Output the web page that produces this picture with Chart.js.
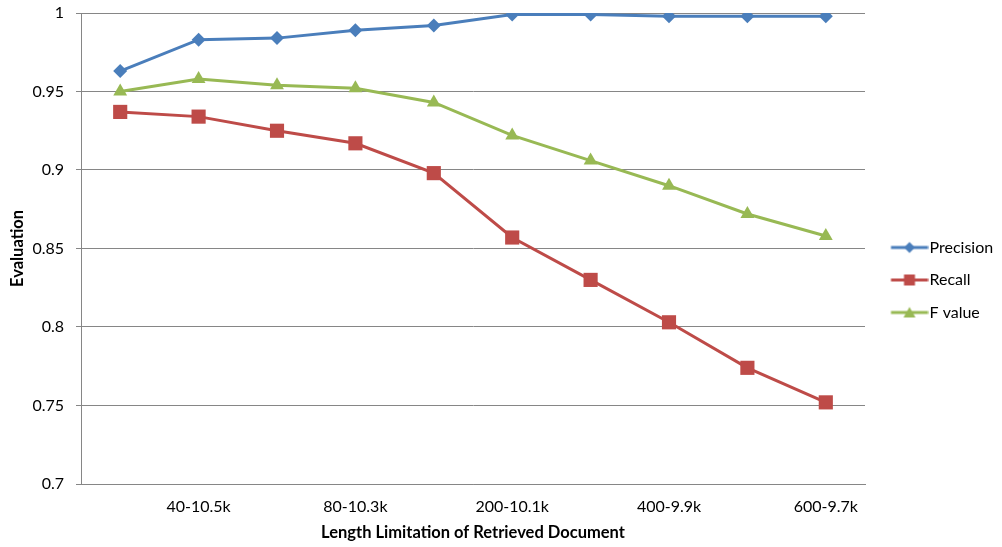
<!DOCTYPE html>
<html>
<head>
<meta charset="utf-8">
<script src="https://cdn.jsdelivr.net/npm/chart.js@4"></script>
<style>
  html, body { margin: 0; padding: 0; background: #fff; }
  #wrap { width: 1002px; height: 547px; }
</style>
</head>
<body>
<div id="wrap"><canvas id="evalChart" width="1002" height="547"></canvas></div>
<script>
const lengthLimits = ['20-10.6k', '40-10.5k', '60-10.4k', '80-10.3k', '100-10.2k', '200-10.1k', '300-10.0k', '400-9.9k', '500-9.8k', '600-9.7k'];
const precision = [0.963, 0.983, 0.984, 0.989, 0.992, 0.999, 0.999, 0.998, 0.998, 0.998];
const recall = [0.937, 0.934, 0.925, 0.917, 0.898, 0.857, 0.830, 0.803, 0.774, 0.752];
const fValue = [0.950, 0.958, 0.954, 0.952, 0.943, 0.922, 0.906, 0.890, 0.872, 0.858];
const yTicks = [0.7, 0.75, 0.8, 0.85, 0.9, 0.95, 1];

const fontName = 'Lato, "Open Sans", sans-serif';

// little line + marker picture for the legend
function legendIcon(color, style) {
    let c = document.createElement('canvas');
    c.width = 54;
    c.height = 16;
    let g = c.getContext('2d');
    let cx = 35;
    g.strokeStyle = color;
    g.fillStyle = color;
    g.lineWidth = 3;
    g.beginPath();
    g.moveTo(16.5, 8);
    g.lineTo(53.5, 8);
    g.stroke();
    g.beginPath();
    if (style == 'diamond') {
        g.moveTo(cx, 2.5); g.lineTo(cx + 5.5, 8); g.lineTo(cx, 13.5); g.lineTo(cx - 5.5, 8);
    } else if (style == 'square') {
        g.rect(cx - 5.5, 2.5, 11, 11);
    } else {
        g.moveTo(cx, 2.5); g.lineTo(cx + 6, 13); g.lineTo(cx - 6, 13);
    }
    g.closePath();
    g.fill();
    return c;
}

function series(label, data, color, pointStyle, radius, icon) {
    return {
        label: label,
        data: data,
        borderColor: color,
        backgroundColor: color,
        borderWidth: 3,
        pointStyle: pointStyle,
        pointRadius: radius,
        pointHoverRadius: radius,
        pointBorderWidth: 0,
        tension: 0,
        legendIcon: icon
    };
}

new Chart('evalChart', {
    type: 'line',
    data: {
        labels: lengthLimits,
        datasets: [
            series('Precision', precision, '#4A7EBB', 'rectRot', 7, legendIcon('#4A7EBB', 'diamond')),
            series('Recall', recall, '#BE4B48', 'rect', 10, legendIcon('#BE4B48', 'square')),
            series('F value', fValue, '#98B954', 'triangle', 8, legendIcon('#98B954', 'triangle'))
        ]
    },
    options: {
        responsive: false,
        animation: false,
        layout: { padding: { top: 13, right: 0, left: 0, bottom: 0 } },
        plugins: {
            tooltip: { enabled: false },
            legend: {
                position: 'right',
                maxWidth: 137,
                labels: {
                    usePointStyle: true,
                    pointStyleWidth: 40,
                    boxHeight: 16,
                    padding: 16.5,
                    color: '#000',
                    font: { family: fontName, size: 16 },
                    generateLabels: function (chart) {
                        return chart.data.datasets.map((ds, i) => ({
                            text: ds.label,
                            pointStyle: ds.legendIcon,
                            fillStyle: ds.borderColor,
                            strokeStyle: ds.borderColor,
                            lineWidth: 0,
                            datasetIndex: i,
                            hidden: false,
                            fontColor: '#000'
                        }));
                    }
                }
            }
        },
        scales: {
            x: {
                offset: true,
                grid: { display: false, drawTicks: false },
                border: { display: true, color: '#868686', width: 1 },
                ticks: {
                    autoSkip: false,
                    maxRotation: 0,
                    padding: 13,
                    color: '#000',
                    font: { family: fontName, size: 16 },
                    callback: function (value, index) {
                        return index % 2 == 1 ? lengthLimits[index] : '';
                    }
                },
                title: {
                    display: true,
                    text: 'Length Limitation of Retrieved Document',
                    color: '#000',
                    font: { family: fontName, size: 16.5, weight: 'bold' },
                    padding: { top: 4, bottom: 4 }
                },
                afterFit: function (scale) {
                    scale.height = 63;
                    scale.paddingLeft = 0;
                    scale.paddingRight = 0;
                }
            },
            y: {
                min: 0.7,
                max: 1,
                afterBuildTicks: function (scale) {
                    scale.ticks = yTicks.map(v => ({ value: v }));
                },
                grid: { color: '#868686', tickLength: 5, lineWidth: 1 },
                border: { display: true, color: '#868686', width: 1 },
                ticks: {
                    padding: 12,
                    color: '#000',
                    font: { family: fontName, size: 16 },
                    callback: function (value) { return String(parseFloat(value.toFixed(2))); }
                },
                title: {
                    display: true,
                    text: 'Evaluation',
                    color: '#000',
                    font: { family: fontName, size: 16.5, weight: 'bold' },
                    padding: { top: 8, bottom: 0 }
                },
                afterFit: function (scale) {
                    scale.width = 81;
                    scale.paddingTop = 0;
                    scale.paddingBottom = 0;
                }
            }
        }
    }
});
</script>
</body>
</html>
